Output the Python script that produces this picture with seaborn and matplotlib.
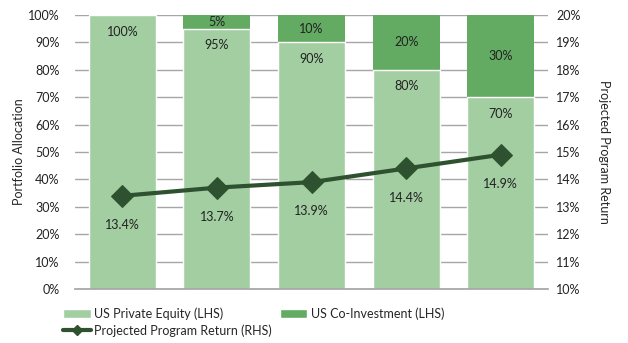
import matplotlib
matplotlib.use("Agg")
import matplotlib.pyplot as plt
import seaborn as sns
import pandas as pd
from matplotlib.patches import Patch
from matplotlib.lines import Line2D
from matplotlib.ticker import FuncFormatter

scenarios = ["A", "B", "C", "D", "E"]
private_equity = [100, 95, 90, 80, 70]
co_investment = [0, 5, 10, 20, 30]
program_return = [13.4, 13.7, 13.9, 14.4, 14.9]

light = "#A2CEA2"
dark = "#63AB63"
line_c = "#2E5230"
FS = 9

sns.set_theme(style="white")
plt.rcParams["font.family"] = ["Lato", "DejaVu Sans"]
plt.rcParams["font.size"] = FS

df = pd.DataFrame({"scenario": scenarios, "pe": private_equity,
                   "ci": co_investment, "ret": program_return})
df["total"] = df["pe"] + df["ci"]

fig = plt.figure(figsize=(6.28, 3.43), dpi=100)
ax = fig.add_axes([75/628, 1-289/343, (548-75)/628, (289-15)/343])

ax.set_axisbelow(True)
ax.yaxis.grid(True, color="#A6A6A6", linewidth=1)
sns.barplot(data=df, x="scenario", y="total", color=dark, width=0.71,
            saturation=1, ax=ax, linewidth=0)
sns.barplot(data=df, x="scenario", y="pe", color=light, width=0.71,
            saturation=1, ax=ax, edgecolor="white", linewidth=1)
ax.set_ylim(0, 100)
ax.set_xlim(-0.5, 4.5)
ax.set_yticks(range(0, 101, 10))
ax.yaxis.set_major_formatter(FuncFormatter(lambda v, p: f"{v:.0f}%"))
ax.set_xticks([])
ax.set_xlabel("")
ax.set_ylabel("Portfolio Allocation", fontsize=FS, labelpad=2)
for s in ["left", "right", "top"]:
    ax.spines[s].set_visible(False)
ax.spines["bottom"].set_color("#A6A6A6")
ax.tick_params(axis="y", length=0, pad=11, labelsize=FS, colors="#222222")

for i, (pe, ci) in enumerate(zip(private_equity, co_investment)):
    ax.annotate(f"{pe}%", (i, pe), xytext=(0, -12), textcoords="offset points",
                ha="center", va="center", fontsize=FS, color="#222222")
    if ci > 0:
        ax.text(i, pe + ci / 2, f"{ci}%", ha="center", va="center",
                fontsize=FS, color="#222222")

ax2 = ax.twinx()
sns.lineplot(x=list(range(len(scenarios))), y=program_return, ax=ax2,
             color=line_c, linewidth=3, marker="D", markersize=11,
             markeredgecolor=line_c)
ax2.set_ylim(10, 20)
ax2.set_yticks(range(10, 21, 1))
ax2.yaxis.set_major_formatter(FuncFormatter(lambda v, p: f"{v:.0f}%"))
ax2.set_ylabel("Projected Program Return", rotation=270, labelpad=21, fontsize=FS)
for s in ["left", "right", "top", "bottom"]:
    ax2.spines[s].set_visible(False)
ax2.tick_params(axis="y", length=0, pad=6, labelsize=FS, colors="#222222")
for i, r in enumerate(program_return):
    ax2.annotate(f"{r:.1f}%", (i, r), xytext=(0, -21), textcoords="offset points",
                 ha="center", va="center", fontsize=FS, color="#222222")

handles = [Patch(facecolor=light, label="US Private Equity (LHS)"),
           Line2D([0], [0], color=line_c, lw=3, marker="D", markersize=5,
                  label="Projected Program Return (RHS)"),
           Patch(facecolor=dark, label="US Co-Investment (LHS)")]
fig.legend(handles=handles, ncol=2, loc="upper left",
           bbox_to_anchor=(52/628, 1-296/343), frameon=False,
           fontsize=FS, handlelength=2.2, handleheight=0.7,
           handletextpad=0.3, columnspacing=0.6, labelspacing=0.35)

fig.savefig("out.png", dpi=100)
